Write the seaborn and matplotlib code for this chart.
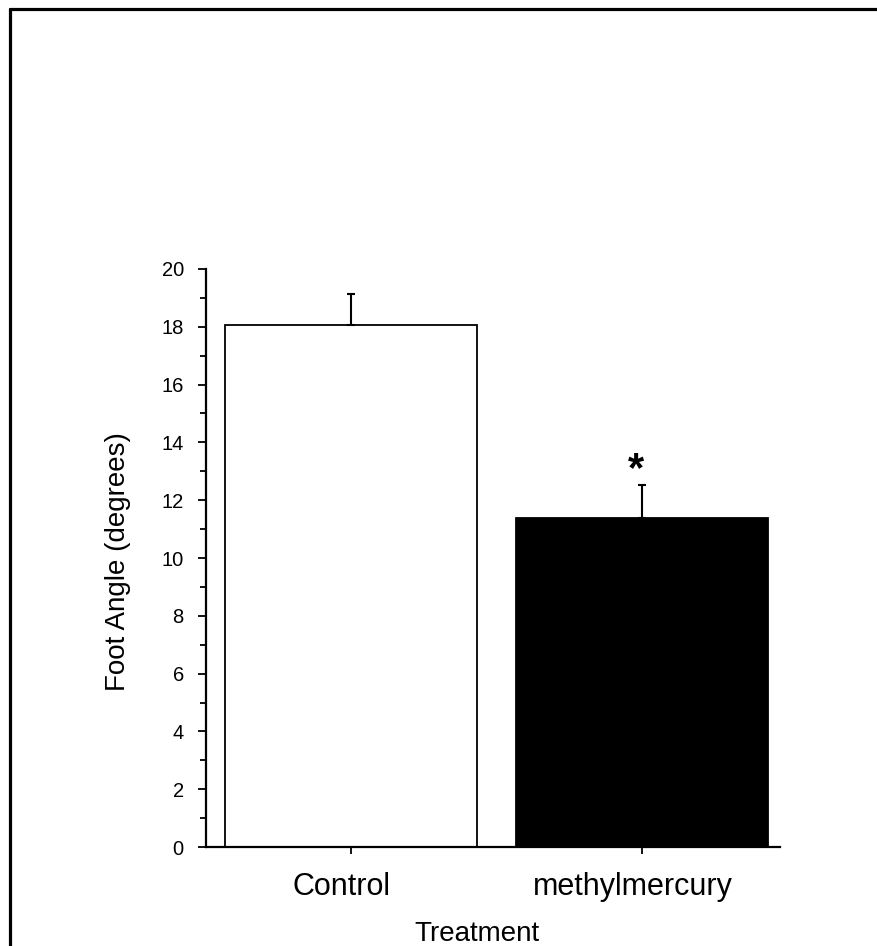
import matplotlib
matplotlib.use("Agg")
import matplotlib.pyplot as plt
import matplotlib.transforms as mtransforms
from matplotlib.lines import Line2D
from matplotlib.ticker import MultipleLocator
import seaborn as sns
import pandas as pd

categories = ["Control", "methylmercury"]
means = [18.07, 11.38]
errors = [1.06, 1.15]
bar_colors = ["white", "black"]
yticks = [0, 2, 4, 6, 8, 10, 12, 14, 16, 18, 20]

sns.set_style("ticks")
plt.rcParams["font.family"] = ["Liberation Sans", "DejaVu Sans"]

fig = plt.figure(figsize=(8.77, 9.46), dpi=100)
ax = fig.add_axes([206 / 877, 1 - 847 / 946, (780 - 206) / 877, (847 - 269) / 946])

df = pd.DataFrame({"Treatment": categories, "Angle": means})
sns.barplot(data=df, x="Treatment", y="Angle", hue="Treatment",
            palette=bar_colors, edgecolor="black", linewidth=1.3,
            width=0.866, legend=False, ax=ax, errorbar=None)

ax.errorbar(range(len(categories)), means, yerr=[[0] * len(errors), errors],
            fmt="none", ecolor="black", elinewidth=1.5, capsize=3, capthick=1.5)

ax.text(0.98, 12.65, "*", ha="center", va="baseline", fontsize=30,
        fontweight="bold", color="black")

ax.set_ylim(0, 20)
ax.set_xlim(-0.498, 1.474)
ax.set_yticks(yticks)
ax.yaxis.set_minor_locator(MultipleLocator(1))

for s in ["top", "right"]:
    ax.spines[s].set_visible(False)
for s in ["left", "bottom"]:
    ax.spines[s].set_linewidth(1.6)
    ax.spines[s].set_color("black")

ax.tick_params(axis="y", which="major", length=6, width=1.3, labelsize=14.5,
               pad=10, color="black", labelcolor="black")
ax.tick_params(axis="y", which="minor", length=4, width=1.3, color="black")
ax.tick_params(axis="x", which="major", length=5, width=1.3, labelsize=22,
               pad=13, color="black", labelcolor="black")

offset = mtransforms.ScaledTranslation(-9 / 100, 0, fig.dpi_scale_trans)
for lab in ax.get_xticklabels():
    lab.set_transform(lab.get_transform() + offset)

ax.set_xlabel("Treatment", fontsize=20, color="black")
ax.set_ylabel("Foot Angle (degrees)", fontsize=20, color="black")
ax.xaxis.set_label_coords((477 - 206) / (780 - 206), -0.128)
ax.yaxis.set_label_coords(-0.130, (847 - 562) / (847 - 269))

# figure border (left and top visible)
fig.add_artist(Line2D([9.5 / 877, 9.5 / 877], [0, 1 - 9.5 / 946],
                      transform=fig.transFigure, color="black", linewidth=2.3))
fig.add_artist(Line2D([9.5 / 877, 1], [1 - 9.5 / 946, 1 - 9.5 / 946],
                      transform=fig.transFigure, color="black", linewidth=2.3))

fig.savefig("out.png", dpi=100, facecolor="white")
